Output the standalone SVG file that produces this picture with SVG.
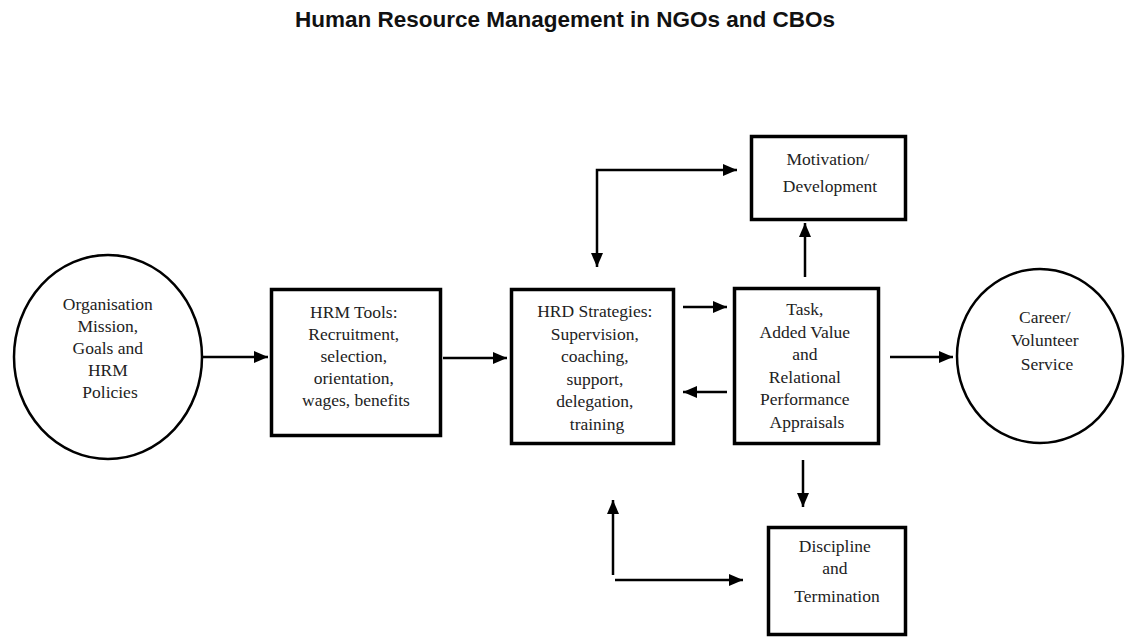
<svg xmlns="http://www.w3.org/2000/svg" width="1129" height="637" viewBox="0 0 1129 637">
  <style>
    .title { font-family: "Liberation Sans", Arial, sans-serif; font-weight: bold; font-size: 22.5px; fill: #111; }
    .lbl { font-family: "Liberation Serif", "Times New Roman", serif; font-size: 17.5px; fill: #222; text-anchor: middle; }
    .box { fill: #fff; stroke: #000; stroke-width: 3.5; }
    .oval { fill: #fff; stroke: #000; stroke-width: 2.5; }
    .conn { fill: none; stroke: #000; stroke-width: 2.5; }
  </style>
  <defs>
    <marker id="head" viewBox="0 0 14 12" refX="14" refY="6" markerWidth="14" markerHeight="12" markerUnits="userSpaceOnUse" orient="auto-start-reverse">
      <path d="M0,0 L14,6 L0,12 Z" fill="#000"/>
    </marker>
  </defs>
  <rect width="1129" height="637" fill="#fff"/>

  <text class="title" x="565" y="27" text-anchor="middle">Human Resource Management in NGOs and CBOs</text>

  <g id="connectors">
    <line class="conn" x1="203" y1="357" x2="268" y2="357" marker-end="url(#head)"/>
    <line class="conn" x1="443" y1="358" x2="507" y2="358" marker-end="url(#head)"/>
    <line class="conn" x1="683" y1="307" x2="727" y2="307" marker-end="url(#head)"/>
    <line class="conn" x1="727" y1="392" x2="683" y2="392" marker-end="url(#head)"/>
    <line class="conn" x1="890" y1="357" x2="953" y2="357" marker-end="url(#head)"/>
    <line class="conn" x1="805" y1="277" x2="805" y2="223" marker-end="url(#head)"/>
    <line class="conn" x1="803" y1="460" x2="803" y2="507" marker-end="url(#head)"/>
    <path class="conn" d="M597,267 V170 H737" marker-start="url(#head)" marker-end="url(#head)"/>
    <line class="conn" x1="613" y1="575" x2="613" y2="500" marker-end="url(#head)"/>
    <line class="conn" x1="615" y1="580" x2="743" y2="580" marker-end="url(#head)"/>
  </g>

  <g id="org-mission">
    <ellipse class="oval" cx="108" cy="357" rx="94" ry="102"/>
    <text class="lbl" x="110" y="310">
      <tspan x="110" dy="0">Organisation</tspan>
      <tspan x="110" dy="22">Mission,</tspan>
      <tspan x="110" dy="22">Goals and</tspan>
      <tspan x="110" dy="22">HRM</tspan>
      <tspan x="110" dy="22">Policies</tspan>
    </text>
  </g>

  <g id="hrm-tools">
    <rect class="box" x="271.5" y="289.5" width="169" height="146"/>
    <text class="lbl" x="356" y="318">
      <tspan x="356" dy="0">HRM Tools:</tspan>
      <tspan x="356" dy="22">Recruitment,</tspan>
      <tspan x="356" dy="22">selection,</tspan>
      <tspan x="356" dy="22">orientation,</tspan>
      <tspan x="356" dy="22">wages, benefits</tspan>
    </text>
  </g>

  <g id="hrd-strategies">
    <rect class="box" x="511.5" y="289.5" width="162" height="154"/>
    <text class="lbl" x="597" y="317">
      <tspan x="597" dy="0">HRD Strategies:</tspan>
      <tspan x="597" dy="22.5">Supervision,</tspan>
      <tspan x="597" dy="22.5">coaching,</tspan>
      <tspan x="597" dy="22.5">support,</tspan>
      <tspan x="597" dy="22.5">delegation,</tspan>
      <tspan x="597" dy="22.5">training</tspan>
    </text>
  </g>

  <g id="task-appraisals">
    <rect class="box" x="734.5" y="288.5" width="144" height="155"/>
    <text class="lbl" x="807" y="315">
      <tspan x="807" dy="0">Task,</tspan>
      <tspan x="807" dy="23">Added Value</tspan>
      <tspan x="807" dy="22">and</tspan>
      <tspan x="807" dy="23">Relational</tspan>
      <tspan x="807" dy="22">Performance</tspan>
      <tspan x="807" dy="23">Appraisals</tspan>
    </text>
  </g>

  <g id="motivation">
    <rect class="box" x="751.5" y="136.5" width="154" height="83"/>
    <text class="lbl" x="830" y="165">
      <tspan x="830" dy="0">Motivation/</tspan>
      <tspan x="830" dy="27">Development</tspan>
    </text>
  </g>

  <g id="career">
    <ellipse class="oval" cx="1040" cy="356" rx="83" ry="87"/>
    <text class="lbl" x="1047" y="323">
      <tspan x="1047" dy="0">Career/</tspan>
      <tspan x="1047" dy="23">Volunteer</tspan>
      <tspan x="1047" dy="24">Service</tspan>
    </text>
  </g>

  <g id="discipline">
    <rect class="box" x="768.5" y="527.5" width="137" height="107"/>
    <text class="lbl" x="837" y="552">
      <tspan x="837" dy="0">Discipline</tspan>
      <tspan x="837" dy="22">and</tspan>
      <tspan x="837" dy="28">Termination</tspan>
    </text>
  </g>
</svg>
